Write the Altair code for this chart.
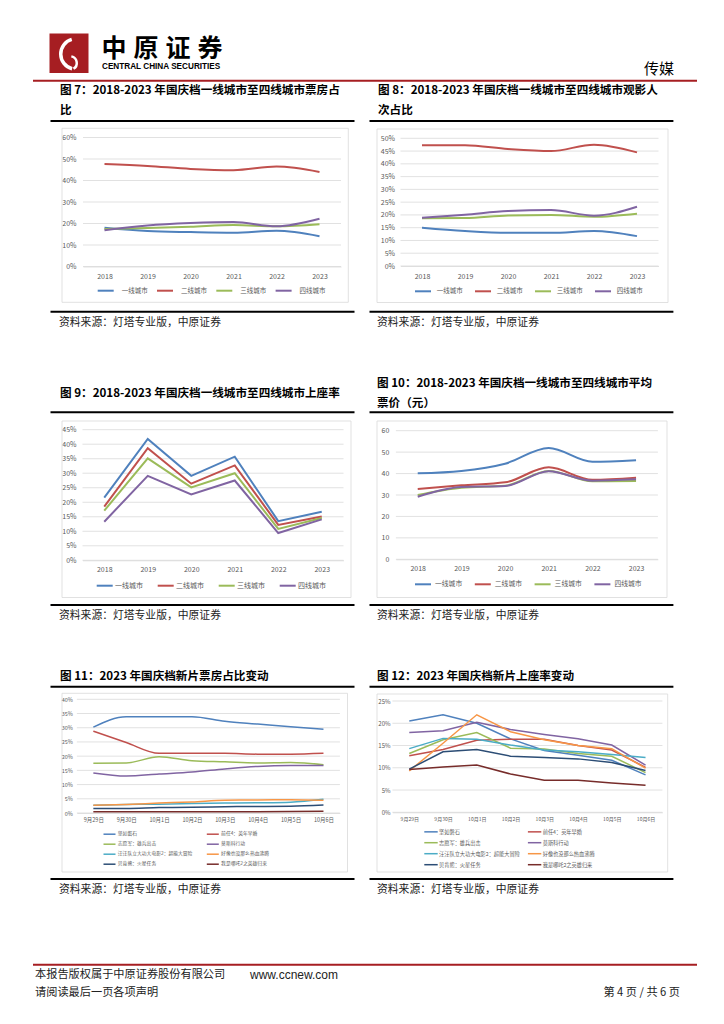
import altair as alt
import pandas as pd

FONT = "Noto Sans CJK SC"
LATIN = "Liberation Sans"
GRID = "#D9D9D9"
LBL = "#595959"
RED = "#A61E22"

# ---------------- data ----------------
years = ["2018", "2019", "2020", "2021", "2022", "2023"]
tiers = ["一线城市", "二线城市", "三线城市", "四线城市"]
tier_colors = ["#4F81BD", "#C0504D", "#9BBB59", "#8064A2"]

# Fig 7 box office share
bo_t1 = [0.180, 0.165, 0.160, 0.157, 0.166, 0.141]
bo_t2 = [0.477, 0.468, 0.454, 0.448, 0.465, 0.440]
bo_t3 = [0.174, 0.179, 0.185, 0.193, 0.187, 0.197]
bo_t4 = [0.169, 0.191, 0.202, 0.207, 0.187, 0.222]

# Fig 8 admissions share
ad_t1 = [0.150, 0.137, 0.130, 0.130, 0.137, 0.117]
ad_t2 = [0.473, 0.473, 0.458, 0.450, 0.475, 0.445]
ad_t3 = [0.187, 0.188, 0.198, 0.200, 0.193, 0.205]
ad_t4 = [0.189, 0.201, 0.215, 0.219, 0.197, 0.232]

# Fig 9 occupancy rate
oc_t1 = [0.216, 0.418, 0.291, 0.357, 0.135, 0.167]
oc_t2 = [0.185, 0.386, 0.264, 0.327, 0.122, 0.151]
oc_t3 = [0.171, 0.351, 0.251, 0.300, 0.108, 0.146]
oc_t4 = [0.133, 0.291, 0.227, 0.275, 0.094, 0.141]

# Fig 10 average ticket price
pr_t1 = [40.1, 41.2, 44.6, 51.9, 45.5, 46.2]
pr_t2 = [32.8, 34.5, 35.9, 42.9, 37.1, 38.1]
pr_t3 = [30.0, 33.4, 34.3, 41.2, 36.4, 36.5]
pr_t4 = [29.2, 33.7, 34.2, 41.1, 36.7, 37.3]

days = ["9月29日", "9月30日", "10月1日", "10月2日", "10月3日", "10月4日", "10月5日", "10月6日"]
films = ["坚如磐石", "前任4：英年早婚", "志愿军：雄兵出击", "莫斯科行动",
         "汪汪队立大功大电影2：超能大冒险", "好像也没那么热血沸腾",
         "贝肯熊：火星任务", "我是哪吒2之英雄归来"]
film_colors = ["#4F81BD", "#C0504D", "#9BBB59", "#8064A2",
               "#4BACC6", "#F79646", "#2C4D75", "#772C2A"]

# Fig 11 box office share by film
sh_f1 = [0.302, 0.339, 0.339, 0.339, 0.323, 0.313, 0.303, 0.295]
sh_f2 = [0.288, 0.248, 0.210, 0.210, 0.210, 0.207, 0.207, 0.210]
sh_f3 = [0.175, 0.176, 0.198, 0.184, 0.180, 0.176, 0.178, 0.170]
sh_f4 = [0.141, 0.130, 0.137, 0.144, 0.155, 0.164, 0.167, 0.167]
sh_f5 = [0.027, 0.030, 0.031, 0.033, 0.035, 0.036, 0.038, 0.048]
sh_f6 = [0.027, 0.030, 0.035, 0.039, 0.045, 0.046, 0.047, 0.045]
sh_f7 = [0.016, 0.016, 0.019, 0.020, 0.022, 0.023, 0.024, 0.028]
sh_f8 = [0.004, 0.004, 0.004, 0.004, 0.004, 0.004, 0.005, 0.006]

# Fig 12 occupancy by film
ro_f1 = [0.205, 0.219, 0.200, 0.165, 0.139, 0.128, 0.117, 0.084]
ro_f2 = [0.127, 0.141, 0.162, 0.164, 0.164, 0.150, 0.140, 0.101]
ro_f3 = [0.132, 0.163, 0.179, 0.144, 0.142, 0.132, 0.126, 0.089]
ro_f4 = [0.179, 0.183, 0.202, 0.186, 0.175, 0.165, 0.151, 0.106]
ro_f5 = [0.143, 0.166, 0.164, 0.151, 0.140, 0.136, 0.130, 0.123]
ro_f6 = [0.093, 0.155, 0.219, 0.181, 0.163, 0.150, 0.143, 0.099]
ro_f7 = [0.097, 0.136, 0.141, 0.126, 0.123, 0.120, 0.112, 0.094]
ro_f8 = [0.096, 0.102, 0.106, 0.086, 0.072, 0.072, 0.066, 0.061]

source_text = "资料来源：灯塔专业版，中原证券"
brand_chars = ["中", "原", "证", "券"]

one = pd.DataFrame({"k": [0]})


# ---------------- helpers (page coords -> panel coords) ----------------
def txt(s, X, Y, o, size, weight="normal", align="left", color="#000000", font=FONT):
    return alt.Chart(one).mark_text(
        align=align, baseline="middle", fontSize=size, fontWeight=weight,
        font=font, color=color
    ).encode(x=alt.value(X - o[0]), y=alt.value(Y - o[1]), text=alt.value(s))


def hrule(X1, X2, Y, o, color="#000000", width=2.0):
    return alt.Chart(one).mark_rule(color=color, strokeWidth=width).encode(
        x=alt.value(X1 - o[0]), x2=alt.value(X2 - o[0]), y=alt.value(Y - o[1]))


def rect(X1, X2, Y1, Y2, o, **kw):
    return alt.Chart(one).mark_rect(**kw).encode(
        x=alt.value(X1 - o[0]), x2=alt.value(X2 - o[0]),
        y=alt.value(Y1 - o[1]), y2=alt.value(Y2 - o[1]))


def build_df(cats, series, values):
    rows = []
    for s, vals in zip(series, values):
        for c, v in zip(cats, vals):
            rows.append({"cat": c, "series": s, "value": v})
    return pd.DataFrame(rows)


def panel(cats, series, values, colors, legend_order, ymax, ystep, fmt, px, py, W, H,
          band, colx, box, titles, tx, uline, sline, stext, legend,
          interp, sw, ylab, xlab):
    o = (colx[0], band[0])
    VW = colx[1] - colx[0]
    VH = band[1] - band[0]
    x0, x1 = px - o[0], px + W - o[0]
    ytop, ybot = py - o[1], py + H - o[1]
    df = build_df(cats, series, values)
    n = int(round(ymax / ystep))
    ticks = [round(i * ystep, 4) for i in range(n + 1)]
    cmap = dict(zip(series, colors))
    leg = dict(orient="none", title=None, symbolType="stroke", labelFont=FONT,
               labelColor=LBL, padding=0)
    leg.update(legend)
    leg["legendX"] = legend["legendX"] - o[0]
    leg["legendY"] = legend["legendY"] - o[1]
    yscale = alt.Scale(domain=[0, ymax], nice=False, zero=True, range=[ybot, ytop])
    yaxis = alt.Axis(title=None, values=ticks, format=fmt, domain=False, ticks=False,
                     tickSize=0, grid=False, offset=-x0,
                     labelFontSize=ylab[0], labelPadding=ylab[1],
                     labelColor=LBL, labelFont=FONT)
    grid = alt.Chart(pd.DataFrame({"value": ticks})).mark_rule(
        color=GRID, strokeWidth=0.8
    ).encode(y=alt.Y("value:Q", scale=yscale, axis=yaxis),
             x=alt.value(x0), x2=alt.value(x1))
    lines = alt.Chart(df).mark_line(strokeWidth=sw, interpolate=interp).encode(
        x=alt.X("cat:N", sort=cats,
                scale=alt.Scale(type="point", padding=0.5, range=[x0, x1]),
                axis=alt.Axis(title=None, labelAngle=0, ticks=False, tickSize=0, grid=False,
                              domainColor=GRID, domainWidth=0.8, offset=ybot - VH,
                              labelFontSize=xlab[0], labelPadding=xlab[1],
                              labelColor=LBL, labelFont=FONT)),
        y=alt.Y("value:Q", scale=yscale, axis=yaxis),
        color=alt.Color("series:N", sort=legend_order,
                        scale=alt.Scale(domain=legend_order,
                                        range=[cmap[s] for s in legend_order]),
                        legend=alt.Legend(**leg)),
    )
    layers = [
        rect(box[0], box[1], box[2], box[3], o, fillOpacity=0, stroke=GRID, strokeWidth=0.8),
    ]
    for s, Y in titles:
        layers.append(txt(s, tx, Y, o, 11.6, weight="bold"))
    layers.append(hrule(uline[0], uline[1], uline[2], o))
    layers.append(hrule(sline[0], sline[1], sline[2], o))
    layers.append(txt(source_text, stext[0], stext[1], o, 10.8, color="#222222"))
    layers.append(grid)
    layers.append(lines)
    return alt.layer(*layers).properties(width=VW, height=VH)


LEFT = (8, 362)
RIGHT = (362, 714)
tier_leg = tiers
film_leg = films[0::2] + films[1::2]  # column-major order for a 2-column legend

A7 = panel(years, tiers, [bo_t1, bo_t2, bo_t3, bo_t4], tier_colors, tier_leg, 0.6, 0.1, ".0%",
           83, 137.5, 258, 129, (83, 370), LEFT, (62, 348.3, 128.3, 302.3),
           [("图 7：2018-2023 年国庆档一线城市至四线城市票房占", 90.7), ("比", 111)], 60,
           (50.5, 354.5, 121), (50.5, 354.5, 311.7), (59, 323.3),
           dict(legendX=96.7, legendY=281.7, direction="horizontal", symbolSize=256,
                symbolStrokeWidth=2, labelFontSize=6.5, labelOffset=7, columnPadding=5.3),
           "monotone", 2, (7, 7), (7, 6))

A8 = panel(years, tiers, [ad_t1, ad_t2, ad_t3, ad_t4], tier_colors, tier_leg, 0.5, 0.05, ".0%",
           400.5, 138.3, 258, 127.7, (83, 370), RIGHT, (377, 668, 129, 302.5),
           [("图 8：2018-2023 年国庆档一线城市至四线城市观影人", 90.7), ("次占比", 111)], 378,
           (369.5, 673.4, 121), (369.5, 673.4, 311.7), (377, 323.3),
           dict(legendX=414, legendY=282.3, direction="horizontal", symbolSize=256,
                symbolStrokeWidth=2, labelFontSize=6.5, labelOffset=4.7, columnPadding=8),
           "monotone", 2, (7, 6), (7, 6))

B9 = panel(years, tiers, [oc_t1, oc_t2, oc_t3, oc_t4], tier_colors, tier_leg, 0.45, 0.05, ".0%",
           82.5, 429.7, 261, 130.6, (370, 655), LEFT, (62, 351, 421, 597.5),
           [("图 9：2018-2023 年国庆档一线城市至四线城市上座率", 393.7)], 60,
           (50.5, 354.5, 412.3), (50.5, 354.5, 605), (59, 615.7),
           dict(legendX=95.7, legendY=576.7, direction="horizontal", symbolSize=256,
                symbolStrokeWidth=2, labelFontSize=7, labelOffset=1.3, columnPadding=10),
           "linear", 2, (7, 6.5), (7, 5.5))

B10 = panel(years, tiers, [pr_t1, pr_t2, pr_t3, pr_t4], tier_colors, tier_leg, 60, 10, "d",
            395.9, 430.7, 262, 128.6, (370, 655), RIGHT, (377, 667, 421, 597.5),
            [("图 10：2018-2023 年国庆档一线城市至四线城市平均", 384.3), ("票价（元）", 403.7)], 377,
            (369.5, 673.4, 412.3), (369.5, 673.4, 605), (377, 615.7),
            dict(legendX=414, legendY=575.3, direction="horizontal", symbolSize=256,
                 symbolStrokeWidth=2, labelFontSize=6.8, labelOffset=3, columnPadding=7.8),
            "monotone", 2, (7, 7), (7, 5.5))

C11 = panel(days, films, [sh_f1, sh_f2, sh_f3, sh_f4, sh_f5, sh_f6, sh_f7, sh_f8],
            film_colors, film_leg, 0.4, 0.05, ".0%",
            76.9, 699.3, 263, 113.7, (655, 900), LEFT, (62, 347.5, 693.3, 872),
            [("图 11：2023 年国庆档新片票房占比变动", 676.7)], 60,
            (50.5, 354.5, 686.7), (50.5, 354.5, 879), (59, 890),
            dict(legendX=102.5, legendY=827.2, columns=2, symbolSize=144,
                 symbolStrokeWidth=1.5, labelFontSize=4.8, labelOffset=1.3,
                 columnPadding=11.3, rowPadding=-3.75),
            "monotone", 1.5, (5.5, 4.6), (5.5, 4.3))

C12 = panel(days, films, [ro_f1, ro_f2, ro_f3, ro_f4, ro_f5, ro_f6, ro_f7, ro_f8],
            film_colors, film_leg, 0.25, 0.05, ".0%",
            392.4, 701, 270, 111.3, (655, 900), RIGHT, (377, 667.7, 694, 872),
            [("图 12：2023 年国庆档新片上座率变动", 676.7)], 377,
            (369.5, 673.4, 686.7), (369.5, 673.4, 879), (377, 890),
            dict(legendX=423.5, legendY=824.2, columns=2, symbolSize=180,
                 symbolStrokeWidth=1.5, labelFontSize=5.2, labelOffset=0.6,
                 columnPadding=3.6, rowPadding=-4.7),
            "linear", 1.5, (6, 2.4), (5, 4.5))

# ---------------- header ----------------
HO = (8, 8)
header_layers = [
    rect(49.5, 88.5, 33.5, 73, HO, color=RED),
    alt.Chart(one).mark_arc(color="white").encode(
        x=alt.value(76 - HO[0]), y=alt.value(54 - HO[1]),
        radius=alt.value(17), radius2=alt.value(13.5),
        theta=alt.value(3.4), theta2=alt.value(6.0)),
    alt.Chart(one).mark_arc(color="white").encode(
        x=alt.value(70 - HO[0]), y=alt.value(63 - HO[1]),
        radius=alt.value(8), radius2=alt.value(5.5),
        theta=alt.value(0.2), theta2=alt.value(2.6)),
]
for i, ch in enumerate(brand_chars):
    header_layers.append(txt(ch, 114 + 32 * i, 48.5, HO, 25, weight="bold", align="center"))
header_layers += [
    txt("CENTRAL CHINA SECURITIES", 102, 67, HO, 8.2, weight="bold", font=LATIN),
    txt("传媒", 644, 68.7, HO, 15),
    hrule(33, 697, 80.7, HO, color=RED, width=2),
]
header = alt.layer(*header_layers).properties(width=706, height=75)

# ---------------- footer ----------------
FO = (8, 900)
footer = alt.layer(
    hrule(33, 697, 964.7, FO, color=RED, width=2),
    txt("本报告版权属于中原证券股份有限公司", 35, 974.7, FO, 11.2, color="#222222"),
    txt("www.ccnew.com", 250, 974.7, FO, 12, font=LATIN, color="#222222"),
    txt("请阅读最后一页各项声明", 35, 992.7, FO, 11.2, color="#222222"),
    txt("第 4 页 / 共 6 页", 680, 992.7, FO, 11.2, align="right", color="#222222"),
).properties(width=706, height=105)


def row(a, b):
    return alt.hconcat(a, b, spacing=0).resolve_scale(
        x="independent", y="independent", color="independent"
    ).resolve_legend(color="independent")


chart = alt.vconcat(
    header, row(A7, A8), row(B9, B10), row(C11, C12), footer, spacing=0
).resolve_scale(
    x="independent", y="independent", color="independent"
).resolve_legend(color="independent").properties(
    padding=0, background="white"
).configure(
    font=FONT, view=alt.ViewConfig(stroke=None, strokeWidth=0)
)

chart.save("out.html", embed_options={"renderer": "svg", "actions": False})
